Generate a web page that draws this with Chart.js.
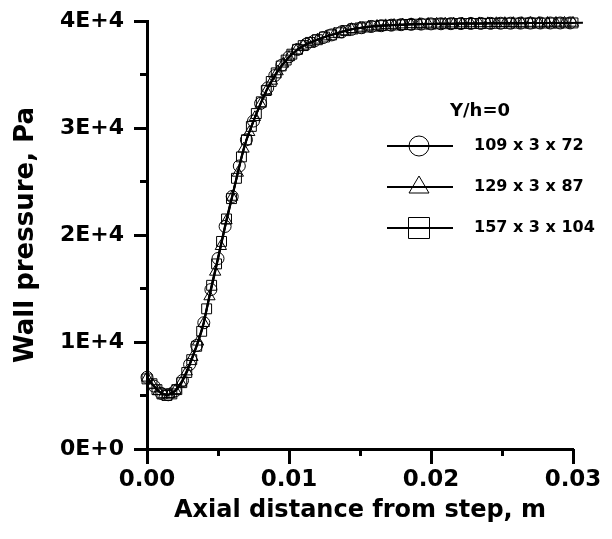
<!DOCTYPE html>
<html>
<head>
<meta charset="utf-8">
<script src="https://cdn.jsdelivr.net/npm/chart.js@4"></script>
<style>
  body { margin: 0; background: #fff; }
  #wrap { width: 612px; height: 539px; }
</style>
</head>
<body>
<div id="wrap"><canvas id="chart" width="612" height="539"></canvas></div>
<script>
// axial distance in m, wall pressure in Pa
const xCircle = [0, 0.0005, 0.0010, 0.0015, 0.0020, 0.0025, 0.0030, 0.0035, 0.0040, 0.0045,
  0.0050, 0.0055, 0.0060, 0.0065, 0.0070, 0.0075, 0.0080, 0.0085, 0.0090, 0.0095,
  0.0100, 0.0106, 0.0112, 0.0118, 0.0124, 0.0130, 0.0137, 0.0144, 0.0151, 0.0158,
  0.0165, 0.0172, 0.0179, 0.0186, 0.0193, 0.0200, 0.0207, 0.0214, 0.0221, 0.0228,
  0.0235, 0.0242, 0.0249, 0.0256, 0.0263, 0.0270, 0.0277, 0.0284, 0.0291, 0.0298, 0.0307];
const yCircle = [6700, 5880, 5200, 5070, 5450, 6400, 7900, 9680, 11800, 14900,
  17800, 20800, 23600, 26450, 28900, 30650, 32300, 33750, 34900, 35880,
  36650, 37340, 37820, 38150, 38450, 38700, 38980, 39220, 39370, 39490,
  39560, 39610, 39655, 39685, 39710, 39730, 39740, 39750, 39760, 39770,
  39775, 39780, 39790, 39795, 39800, 39805, 39810, 39812, 39815, 39820, 39830];

const xTri = [0, 0.0004, 0.0008, 0.0012, 0.0016, 0.0020, 0.0024, 0.0028, 0.0032, 0.0036,
  0.0040, 0.0044, 0.0048, 0.0052, 0.0056, 0.0060, 0.0064, 0.0068, 0.0072, 0.0076,
  0.0080, 0.0084, 0.0088, 0.0092, 0.0096, 0.0100, 0.0105, 0.0110, 0.0115, 0.0120,
  0.0126, 0.0132, 0.0138, 0.0144, 0.0150, 0.0156, 0.0162, 0.0168, 0.0174, 0.0180,
  0.0186, 0.0192, 0.0198, 0.0204, 0.0210, 0.0216, 0.0222, 0.0228, 0.0234, 0.0240,
  0.0246, 0.0252, 0.0258, 0.0264, 0.0270, 0.0276, 0.0282, 0.0288, 0.0294, 0.0300, 0.0306];
const yTri = [6650, 6000, 5380, 5100, 5120, 5480, 6180, 7230, 8580, 10020,
  11750, 14250, 16550, 18950, 21350, 23550, 25800, 28050, 29600, 31000,
  32250, 33450, 34400, 35280, 36000, 36600, 37220, 37680, 37990, 38240,
  38540, 38780, 39020, 39230, 39350, 39460, 39530, 39590, 39620, 39660,
  39685, 39705, 39725, 39735, 39745, 39752, 39760, 39768, 39774, 39780,
  39786, 39792, 39796, 39800, 39805, 39808, 39810, 39814, 39818, 39820, 39828];

const xSq = [0, 0.00035, 0.0007, 0.00105, 0.0014, 0.00175, 0.0021, 0.00245, 0.0028, 0.00315,
  0.0035, 0.00385, 0.0042, 0.00455, 0.0049, 0.00525, 0.0056, 0.00595, 0.0063, 0.00665,
  0.0070, 0.00735, 0.0077, 0.00805, 0.0084, 0.00875, 0.0091, 0.00945, 0.0098, 0.0102,
  0.0106, 0.0110, 0.0115, 0.0120, 0.0125, 0.0130, 0.0135, 0.0140, 0.0145, 0.0150,
  0.0155, 0.0160, 0.0165, 0.0170, 0.0175, 0.0180, 0.0185, 0.0190, 0.0195, 0.0200,
  0.0205, 0.0210, 0.0215, 0.0220, 0.0225, 0.0230, 0.0235, 0.0240, 0.0245, 0.0250,
  0.0255, 0.0260, 0.0265, 0.0270, 0.0275, 0.0280, 0.0285, 0.0290, 0.0295, 0.0300, 0.0305];
const ySq = [6550, 6100, 5550, 5150, 5000, 5150, 5550, 6200, 7150, 8350,
  9600, 11000, 13100, 15300, 17300, 19400, 21500, 23400, 25300, 27300,
  28900, 30150, 31350, 32450, 33500, 34350, 35150, 35800, 36350, 36900,
  37350, 37700, 38000, 38250, 38500, 38700, 38900, 39100, 39250, 39350,
  39440, 39520, 39570, 39600, 39630, 39660, 39680, 39700, 39715, 39730,
  39738, 39745, 39750, 39760, 39765, 39770, 39775, 39780, 39785, 39790,
  39795, 39800, 39803, 39806, 39808, 39810, 39813, 39816, 39818, 39820, 39826];

const gridLabels = ["109 x 3 x 72", "129 x 3 x 87", "157 x 3 x 104"];
const legendTitle = "Y/h=0";
const xTitle = "Axial distance from step, m";
const yTitle = "Wall pressure, Pa";

const FONT = "'DejaVu Sans', sans-serif";

function pairs(xs, ys) {
  return xs.map((x, i) => ({ x: x, y: ys[i] }));
}

function series(label, xs, ys, style, r) {
  return {
    label: label,
    data: pairs(xs, ys),
    showLine: true,
    borderColor: "#000",
    borderWidth: 2,
    pointStyle: style,
    pointRadius: r,
    pointBorderWidth: 1,
    pointBorderColor: "#000",
    pointBackgroundColor: "rgba(0,0,0,0)",
    clip: false
  };
}

// draws the legend box inside the plot
const legendBox = {
  id: "legendBox",
  afterDraw(chart) {
    const c = chart.ctx;
    c.save();
    c.fillStyle = "#000";
    c.strokeStyle = "#000";
    c.font = "bold 18px " + FONT;
    c.textAlign = "center";
    c.textBaseline = "middle";
    c.fillText(legendTitle, 480, 111);
    c.font = "bold 16px " + FONT;
    c.textAlign = "left";
    chart.data.datasets.forEach((ds, i) => {
      const y = 146 + i * 41;
      c.lineWidth = 2;
      c.beginPath();
      c.moveTo(387, y);
      c.lineTo(453, y);
      c.stroke();
      c.lineWidth = 1;
      c.beginPath();
      if (ds.pointStyle === "circle") {
        c.arc(419, y, 10, 0, Math.PI * 2);
      } else if (ds.pointStyle === "triangle") {
        c.moveTo(419, y - 11);
        c.lineTo(429, y + 6);
        c.lineTo(409, y + 6);
        c.closePath();
      } else {
        c.rect(408.5, y - 10.5, 21, 21);
      }
      c.stroke();
      c.fillText(ds.label, 474, y);
    });
    c.restore();
  }
};

const ctx = document.getElementById("chart").getContext("2d");
new Chart(ctx, {
  type: "scatter",
  data: {
    datasets: [
      series(gridLabels[0], xCircle, yCircle, "circle", 6),
      series(gridLabels[1], xTri, yTri, "triangle", 6.5),
      series(gridLabels[2], xSq, ySq, "rect", 7)
    ]
  },
  options: {
    responsive: false,
    animation: false,
    devicePixelRatio: 1,
    layout: { padding: { left: 0, right: 39, top: 21, bottom: 0 } },
    plugins: { legend: { display: false }, tooltip: { enabled: false } },
    scales: {
      x: {
        type: "linear", position: "bottom", min: 0, max: 0.03,
        ticks: {
          stepSize: 0.01, color: "#000", padding: 2,
          font: { family: FONT, size: 23, weight: "bold" },
          callback: v => v.toFixed(2)
        },
        grid: { drawOnChartArea: false, tickLength: 15, tickWidth: 3, tickColor: "#000" },
        border: { display: true, width: 3, color: "#000" },
        title: {
          display: true, text: xTitle, color: "#000",
          font: { family: FONT, size: 24, weight: "bold" },
          padding: { top: 0, bottom: 14 }
        },
        afterFit: s => { s.height = 90; s.paddingLeft = 0; s.paddingRight = 0; }
      },
      xMinor: {
        type: "linear", position: "bottom", min: 0, max: 0.03, weight: -1,
        ticks: { stepSize: 0.005, display: false },
        grid: { drawOnChartArea: false, tickLength: 7, tickWidth: 3, tickColor: "#000" },
        border: { display: false },
        afterFit: s => { s.height = 0; s.paddingLeft = 0; s.paddingRight = 0; }
      },
      y: {
        type: "linear", position: "left", min: 0, max: 40000,
        ticks: {
          stepSize: 10000, color: "#000", padding: 10,
          font: { family: FONT, size: 22, weight: "bold" },
          callback: v => v === 0 ? "0E+0" : (v / 10000) + "E+4"
        },
        grid: { drawOnChartArea: false, tickLength: 13, tickWidth: 3, tickColor: "#000" },
        border: { display: true, width: 3, color: "#000" },
        title: {
          display: true, text: yTitle, color: "#000",
          font: { family: FONT, size: 26, weight: "bold" },
          padding: { top: 11, bottom: 0 }
        },
        afterFit: s => { s.width = 147; s.paddingTop = 0; s.paddingBottom = 0; }
      },
      yMinor: {
        type: "linear", position: "left", min: 0, max: 40000, weight: -1,
        ticks: { stepSize: 5000, display: false },
        grid: { drawOnChartArea: false, tickLength: 7, tickWidth: 3, tickColor: "#000" },
        border: { display: false },
        afterFit: s => { s.width = 0; s.paddingTop = 0; s.paddingBottom = 0; }
      }
    }
  },
  plugins: [legendBox]
});
</script>
</body>
</html>
